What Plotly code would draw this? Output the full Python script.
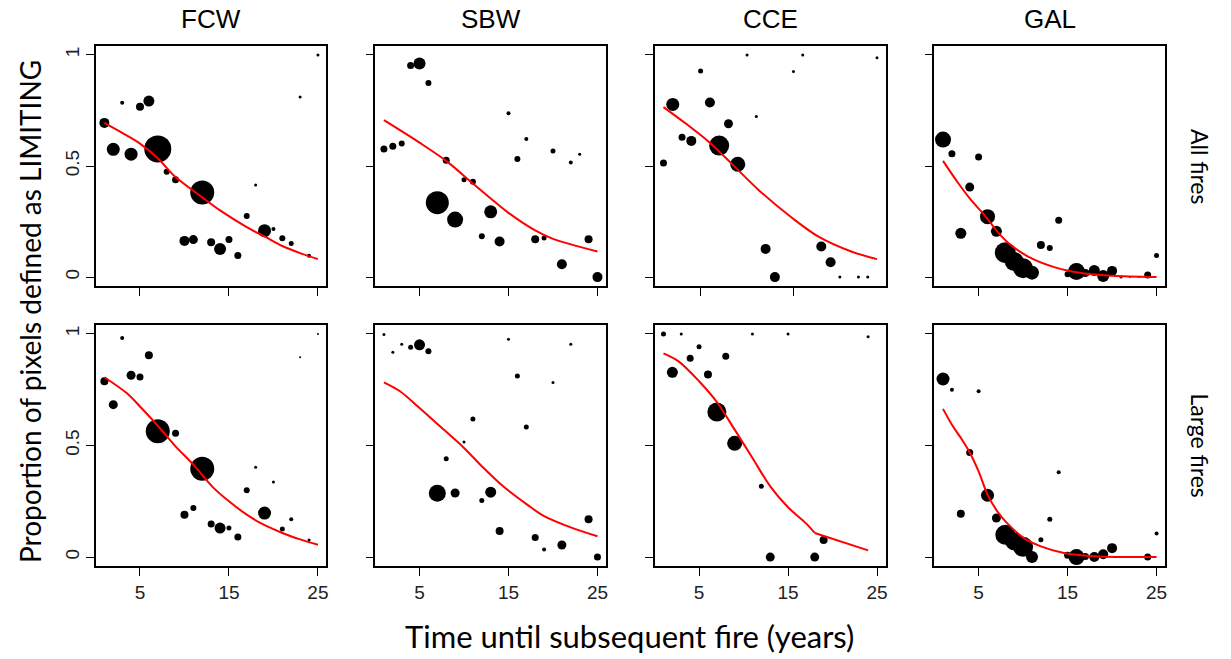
import plotly.graph_objects as go

# ---------------- data ----------------
sites = ["FCW", "SBW", "CCE", "GAL"]
fire_sets = ["All fires", "Large fires"]
y_ticks = [0, 0.5, 1]
y_tick_text = ["0", "0.5", "1"]
x_ticks = [5, 15, 25]

# FCW - all fires
fcw_all_x = [1, 2, 3, 4, 5, 6, 7, 8, 9, 10, 11, 12, 13, 14, 15, 16, 17, 18, 19, 20, 21, 22, 23, 24, 25]
fcw_all_y = [0.694, 0.575, 0.785, 0.553, 0.767, 0.792, 0.577, 0.474, 0.438, 0.163, 0.169, 0.381, 0.157,
             0.126, 0.169, 0.097, 0.275, 0.414, 0.209, 0.217, 0.175, 0.151, 0.81, 0.096, 1.0]
fcw_all_w = [10, 13, 4, 13, 8, 11, 27, 6, 7, 10, 9, 24, 8, 12, 7, 7, 6, 3, 13, 4, 6, 5, 3, 4, 3]
fcw_all_fx = [1, 3, 5, 7, 9, 12, 14, 17, 19, 21, 23, 25]
fcw_all_fy = [0.694, 0.649, 0.601, 0.535, 0.450, 0.359, 0.300, 0.225, 0.183, 0.140, 0.108, 0.081]

# SBW - all fires
sbw_all_x = [1, 2, 3, 4, 5, 6, 7, 8, 9, 10, 11, 12, 13, 14, 15, 16, 17, 18, 19, 20, 21, 22, 23, 24, 25]
sbw_all_y = [0.577, 0.589, 0.601, 0.952, 0.961, 0.874, 0.335, 0.526, 0.259, 0.438, 0.429, 0.184, 0.294,
             0.16, 0.737, 0.532, 0.622, 0.17, 0.176, 0.568, 0.058, 0.516, 0.553, 0.17, 0.0]
sbw_all_w = [7, 7, 6, 7, 12, 6, 23, 7, 16, 5, 6, 6, 13, 10, 4, 6, 4, 8, 5, 5, 10, 4, 3, 8, 10]
sbw_all_fx = [1, 5, 8, 11, 13, 15, 18, 20, 25]
sbw_all_fy = [0.706, 0.605, 0.523, 0.421, 0.354, 0.289, 0.210, 0.172, 0.115]

# CCE - all fires
cce_all_x = [1, 2, 3, 4, 5, 6, 7, 8, 9, 10, 11, 12, 13, 15, 16, 18, 19, 20, 22, 23, 24]
cce_all_y = [0.513, 0.777, 0.629, 0.613, 0.928, 0.786, 0.592, 0.69, 0.508, 1.0, 0.723, 0.127, 0.0,
             0.925, 1.0, 0.138, 0.067, 0.0, 0.0, 0.0, 0.987]
cce_all_w = [7, 13, 7, 10, 5, 10, 20, 9, 15, 3, 3, 10, 10, 3, 3, 10, 10, 3, 3, 3, 3]
cce_all_fx = [1, 3.4, 5.9, 8.4, 11.3, 14.9, 17.7, 21.3, 24]
cce_all_fy = [0.765, 0.691, 0.608, 0.508, 0.390, 0.265, 0.182, 0.114, 0.081]

# GAL - all fires
gal_all_x = [1, 2, 3, 4, 5, 6, 7, 8, 9, 10, 11, 12, 13, 14, 15, 16, 17, 18, 19, 20, 21, 22, 23, 24, 25]
gal_all_y = [0.619, 0.555, 0.197, 0.405, 0.54, 0.272, 0.206, 0.11, 0.07, 0.04, 0.02, 0.145, 0.131,
             0.256, 0.013, 0.025, 0.018, 0.03, 0.005, 0.028, 0.0, 0.0, 0.0, 0.01, 0.097]
gal_all_w = [16, 7, 11, 9, 7, 15, 11, 21, 19, 20, 14, 8, 6, 7, 6, 17, 8, 11, 12, 10, 3, 2, 2, 7, 5]
gal_all_fx = [1, 2.6, 4, 5.8, 7.1, 8.6, 10.9, 13.5, 16.9, 20, 25]
gal_all_fy = [0.523, 0.429, 0.354, 0.272, 0.205, 0.145, 0.085, 0.045, 0.016, 0.006, 0.0]

# FCW - large fires
fcw_lrg_x = [1, 2, 3, 4, 5, 6, 7, 9, 10, 11, 12, 13, 14, 15, 16, 17, 18, 19, 20, 21, 22, 23, 24, 25]
fcw_lrg_y = [0.788, 0.683, 0.982, 0.815, 0.807, 0.904, 0.564, 0.555, 0.19, 0.22, 0.396, 0.148, 0.13,
             0.13, 0.09, 0.299, 0.402, 0.197, 0.336, 0.126, 0.17, 0.895, 0.076, 1.0]
fcw_lrg_w = [8, 9, 4, 9, 7, 8, 24, 7, 8, 6, 24, 7, 11, 5, 7, 6, 3, 13, 3, 5, 4, 2, 3, 2]
fcw_lrg_fx = [1, 3.5, 5, 6.9, 9, 11, 13.3, 15, 17, 18.9, 21, 23.1, 25]
fcw_lrg_fy = [0.806, 0.735, 0.675, 0.593, 0.496, 0.414, 0.309, 0.25, 0.19, 0.145, 0.108, 0.078, 0.055]

# SBW - large fires
sbw_lrg_x = [1, 2, 3, 4, 5, 6, 7, 8, 9, 10, 11, 12, 13, 14, 15, 16, 17, 18, 19, 20, 21, 22, 24, 25]
sbw_lrg_y = [0.997, 0.918, 0.954, 0.94, 0.951, 0.922, 0.286, 0.441, 0.287, 0.516, 0.619, 0.254, 0.291,
             0.117, 0.976, 0.812, 0.583, 0.088, 0.034, 0.782, 0.054, 0.954, 0.17, 0.0]
sbw_lrg_w = [3, 3, 3, 5, 11, 6, 17, 5, 9, 3, 5, 5, 11, 8, 3, 5, 5, 7, 4, 3, 9, 3, 8, 7]
sbw_lrg_fx = [1, 2.8, 5, 7.3, 10, 12, 14.4, 17.1, 18.9, 22, 25]
sbw_lrg_fy = [0.783, 0.743, 0.668, 0.586, 0.489, 0.407, 0.317, 0.235, 0.186, 0.133, 0.093]

# CCE - large fires (fitted curve has a break at year 18)
cce_lrg_x = [1, 2, 3, 4, 5, 6, 7, 8, 9, 11, 12, 13, 15, 18, 19, 24]
cce_lrg_y = [1.0, 0.828, 1.0, 0.891, 0.942, 0.818, 0.65, 0.9, 0.51, 1.0, 0.317, 0.0, 1.0, 0.0, 0.076, 0.987]
cce_lrg_w = [5, 11, 3, 7, 5, 8, 19, 7, 15, 3, 5, 9, 3, 9, 8, 3]
cce_lrg_fx = [1, 2.7, 5, 7, 9, 11, 13, 15, 17, 18, 24]
cce_lrg_fy = [0.913, 0.877, 0.788, 0.695, 0.571, 0.444, 0.317, 0.223, 0.152, 0.108, 0.03]
cce_lrg_break = 18

# GAL - large fires
gal_lrg_x = [1, 2, 3, 4, 5, 6, 7, 8, 9, 10, 11, 12, 13, 14, 15, 16, 17, 18, 19, 20, 21, 22, 24, 25]
gal_lrg_y = [0.798, 0.75, 0.194, 0.469, 0.743, 0.277, 0.175, 0.1, 0.07, 0.046, 0.0, 0.078, 0.17,
             0.38, 0.008, 0.0, 0.003, 0.0, 0.013, 0.04, 0.0, 0.0, 0.0, 0.106]
gal_lrg_w = [13, 4, 8, 7, 4, 13, 9, 20, 18, 20, 12, 5, 5, 4, 7, 16, 7, 10, 10, 10, 2, 2, 7, 4]
gal_lrg_fx = [1, 2, 3, 4, 5, 6, 7.1, 8.2, 10.1, 12, 14.6, 18, 25]
gal_lrg_fy = [0.664, 0.593, 0.534, 0.469, 0.384, 0.28, 0.205, 0.152, 0.085, 0.048, 0.018, 0.004, 0.0]

# x limits per panel (data extent of years), row-major order
x_limits = [(1, 25), (1, 25), (1, 24), (1, 25), (1, 25), (1, 25), (1, 25), (1, 25)]

panels = [
    (fcw_all_x, fcw_all_y, fcw_all_w, fcw_all_fx, fcw_all_fy),
    (sbw_all_x, sbw_all_y, sbw_all_w, sbw_all_fx, sbw_all_fy),
    (cce_all_x, cce_all_y, cce_all_w, cce_all_fx, cce_all_fy),
    (gal_all_x, gal_all_y, gal_all_w, gal_all_fx, gal_all_fy),
    (fcw_lrg_x, fcw_lrg_y, fcw_lrg_w, fcw_lrg_fx, fcw_lrg_fy),
    (sbw_lrg_x, sbw_lrg_y, sbw_lrg_w, sbw_lrg_fx, sbw_lrg_fy),
    (cce_lrg_x, cce_lrg_y, cce_lrg_w, cce_lrg_fx, cce_lrg_fy),
    (gal_lrg_x, gal_lrg_y, gal_lrg_w, gal_lrg_fx, gal_lrg_fy),
]
curve_breaks = [None, None, None, None, None, None, cce_lrg_break, None]

# ---------------- layout geometry (pixels) ----------------
W, H = 1231, 659
col_left = [96, 376, 656, 936]
panel_w = 231
row_top = [46, 325]
row_bot = [286, 566]

AX_FONT = "Liberation Sans, Arial, sans-serif"
LBL_FONT = "Lato, Carlito, Calibri, sans-serif"

fig = go.Figure()
layout = dict(
    width=W, height=H,
    margin=dict(l=0, r=0, t=0, b=0),
    paper_bgcolor="white", plot_bgcolor="white",
    showlegend=False,
)

for i, (px, py, pw, fx, fy) in enumerate(panels):
    r, c = divmod(i, 4)
    n = i + 1
    xa = "x" if n == 1 else f"x{n}"
    ya = "y" if n == 1 else f"y{n}"
    fig.add_trace(go.Scatter(
        x=px, y=py, mode="markers",
        marker=dict(color="black", size=pw, line=dict(width=0), opacity=1),
        xaxis=xa, yaxis=ya, hoverinfo="x+y"))
    brk = curve_breaks[i]
    if brk is None:
        segs = [(fx, fy)]
    else:
        k = fx.index(brk)
        segs = [(fx[:k + 1], fy[:k + 1]), (fx[k:], fy[k:])]
    for sx, sy in segs:
        fig.add_trace(go.Scatter(
            x=sx, y=sy, mode="lines",
            line=dict(color="#ff0000", width=2, shape="spline", smoothing=0.9),
            xaxis=xa, yaxis=ya, hoverinfo="skip"))

    lo, hi = x_limits[i]
    pad = 0.04 * (hi - lo)
    x0 = col_left[c] / W
    x1 = (col_left[c] + panel_w) / W
    y0 = 1 - row_bot[r] / H
    y1 = 1 - row_top[r] / H
    common = dict(showline=True, mirror=True, linecolor="black", linewidth=1.5,
                  ticks="outside", ticklen=8, tickwidth=1.3, tickcolor="black",
                  showgrid=False, zeroline=False,
                  tickfont=dict(family=AX_FONT, size=19, color="#222"))
    layout["xaxis" if n == 1 else f"xaxis{n}"] = dict(
        common, domain=[x0, x1], range=[lo - pad, hi + pad], anchor=ya,
        tickmode="array", tickvals=x_ticks, ticktext=[str(v) for v in x_ticks],
        showticklabels=(r == 1))
    layout["yaxis" if n == 1 else f"yaxis{n}"] = dict(
        common, domain=[y0, y1], range=[-0.04, 1.04], anchor=xa,
        tickmode="array", tickvals=y_ticks, ticktext=y_tick_text,
        showticklabels=(c == 0), tickangle=-90)

annotations = []
for c, s in enumerate(sites):
    annotations.append(dict(
        text=s, x=(col_left[c] + panel_w / 2) / W, y=1 - 19 / H,
        xref="paper", yref="paper", xanchor="center", yanchor="middle",
        showarrow=False, font=dict(family=AX_FONT, size=26, color="black")))
for r, lab in enumerate(fire_sets):
    annotations.append(dict(
        text=lab, x=1202 / W, y=1 - (row_top[r] + row_bot[r]) / 2 / H,
        xref="paper", yref="paper", xanchor="center", yanchor="middle",
        textangle=90, showarrow=False, font=dict(family=LBL_FONT, size=23, color="black")))
annotations.append(dict(
    text="Proportion of pixels defined as LIMITING", x=30 / W, y=1 - 311 / H,
    xref="paper", yref="paper", xanchor="center", yanchor="middle",
    textangle=-90, showarrow=False, font=dict(family=LBL_FONT, size=28, color="black")))
annotations.append(dict(
    text="Time until subsequent fire (years)", x=631 / W, y=1 - 636 / H,
    xref="paper", yref="paper", xanchor="center", yanchor="middle",
    showarrow=False, font=dict(family=LBL_FONT, size=31, color="black")))
layout["annotations"] = annotations

fig.update_layout(**layout)
fig.write_html("out.html")
